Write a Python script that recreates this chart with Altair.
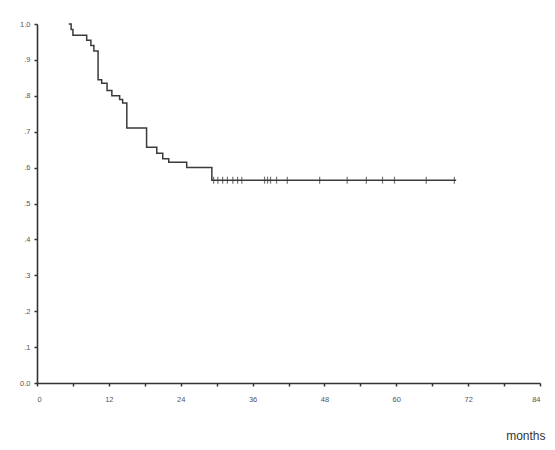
import altair as alt
import pandas as pd

# Kaplan-Meier step points (months, cumulative survival)
step_times = [5.3, 5.7, 6.0, 8.3, 9.0, 9.5, 10.2, 10.8, 11.7, 12.5, 13.8, 14.3, 15.0,
              18.3, 20.0, 21.0, 22.0, 25.0, 29.2, 70.0]
step_surv = [1.0, 0.985, 0.969, 0.955, 0.94, 0.925, 0.845, 0.835, 0.815, 0.80, 0.79, 0.78, 0.71,
             0.657, 0.64, 0.625, 0.615, 0.60, 0.565, 0.565]

# censored observations (months)
censor_times = [29.5, 30.2, 31.0, 31.8, 32.7, 33.5, 34.2, 38.0, 38.5, 39.0, 40.0,
                41.8, 47.2, 51.8, 55.0, 57.7, 59.7, 65.0, 69.7]

x_ticks = [0, 6, 12, 18, 24, 30, 36, 42, 48, 54, 60, 66, 72, 78, 84]
y_ticks = [0.0, 0.1, 0.2, 0.3, 0.4, 0.5, 0.6, 0.7, 0.8, 0.9, 1.0]
y_labels = ["0.0", ".1", ".2", ".3", ".4", ".5", ".6", ".7", ".8", ".9", "1.0"]


def surv_at(t):
    s = step_surv[0]
    for tt, ss in zip(step_times, step_surv):
        if tt <= t:
            s = ss
    return s


line_df = pd.DataFrame({"t": step_times, "s": step_surv})
cens_df = pd.DataFrame({"t": censor_times, "s": [surv_at(t) for t in censor_times]})

xscale = alt.Scale(domain=[0, 84], nice=False, zero=False)
yscale = alt.Scale(domain=[0, 1], nice=False)

lab_font = "Liberation Sans"

ylab_expr = "[" + ",".join("'" + l + "'" for l in y_labels) + "][round(datum.value * 10)]"

xaxis = alt.Axis(
    values=x_ticks,
    labelExpr="datum.value % 12 == 0 ? datum.label : ''",
    labelOverlap=False,
    grid=False, domainColor="#333", domainWidth=1.6,
    tickColor="#333", tickSize=3, tickWidth=1.5,
    labelFontSize=7.5, labelColor="#555", labelFont=lab_font, labelPadding=9,
    title="months", titleFont=lab_font, titleFontSize=12, titleFontWeight="normal",
    titleColor="#333", titleAnchor="end", titleAlign="right", titleX=508, titleY=59,
    titleBaseline="bottom",
)
yaxis = alt.Axis(
    values=y_ticks,
    labelExpr=ylab_expr,
    labelOverlap=False,
    grid=False, domainColor="#333", domainWidth=1.6,
    tickColor="#333", tickSize=3, tickWidth=1.5,
    labelFontSize=7.5, labelColor="#555", labelFont=lab_font, labelPadding=4,
    title=None,
)

line = alt.Chart(line_df).mark_line(
    interpolate="step-after", color="#3a3a3a", strokeWidth=1.5
).encode(
    x=alt.X("t:Q", scale=xscale, axis=xaxis),
    y=alt.Y("s:Q", scale=yscale, axis=yaxis),
)

cens = alt.Chart(cens_df).mark_tick(
    orient="vertical", color="#3a3a3a", size=7, thickness=1.2
).encode(
    x=alt.X("t:Q", scale=xscale, axis=xaxis),
    y=alt.Y("s:Q", scale=yscale, axis=yaxis),
)

chart = alt.layer(line, cens).properties(
    width=503, height=359,
    padding={"left": 29, "top": 16, "right": 7, "bottom": 66},
    autosize=alt.AutoSizeParams(type="none"),
).configure_view(stroke=None).configure_axis(labelOverlap=False)

chart.save("out.html", embed_options={"renderer": "svg", "actions": False})
